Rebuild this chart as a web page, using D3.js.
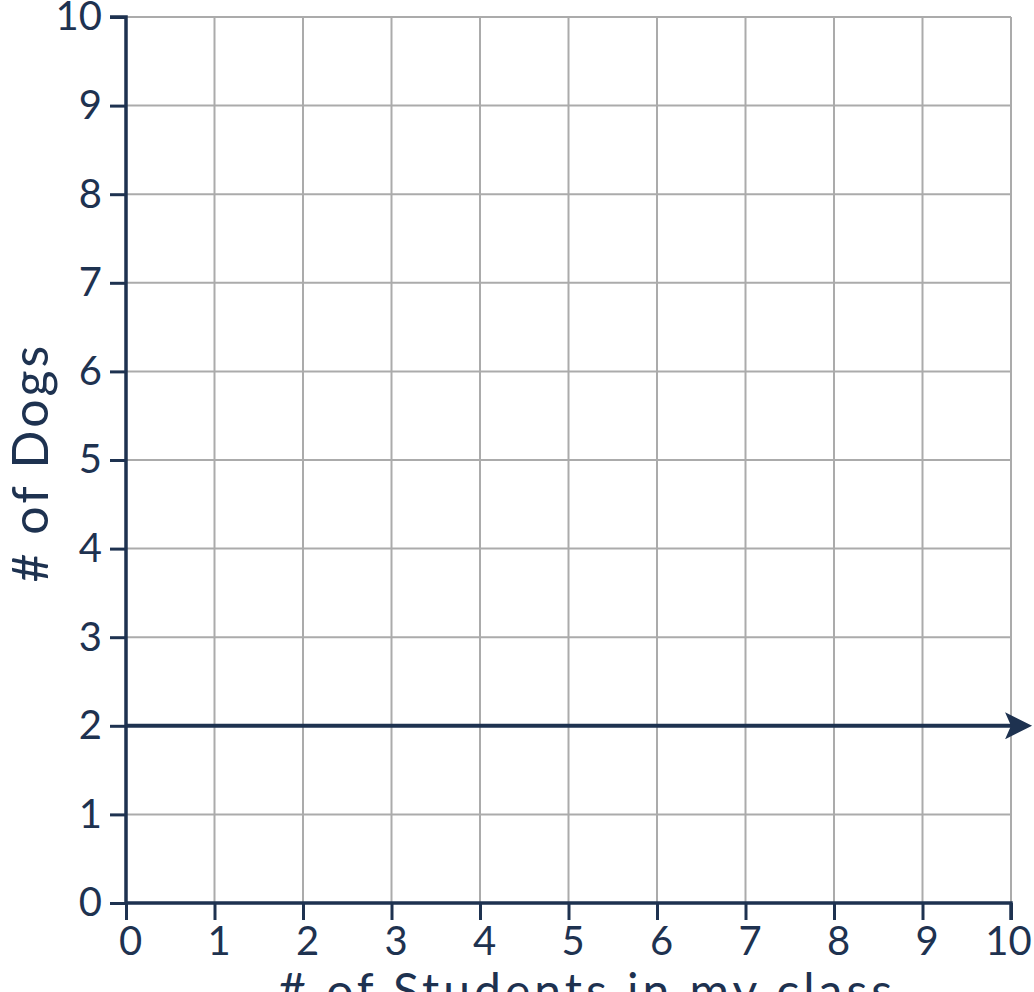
<!DOCTYPE html>
<html lang="en">

<head>
    <meta charset="UTF-8">
    <script src="https://d3js.org/d3.v7.min.js"></script>
    <title>dogs vs students</title>
    <style>
        body { margin: 0; background: #fff; }
        text { font-family: Lato, "Open Sans", sans-serif; fill: #1e3250; }
    </style>
</head>

<body>
    <div id="chart"></div>
    <script>
        // Data
        const xTicks = [0, 1, 2, 3, 4, 5, 6, 7, 8, 9, 10];
        const yTicks = [0, 1, 2, 3, 4, 5, 6, 7, 8, 9, 10];
        const lineX = [0, 10];
        const lineY = [2, 2];
        const xTitle = "# of Students in my class";
        const yTitle = "# of Dogs";

        const width = 1034;
        const height = 992;
        const margin = { top: 17, right: 23, bottom: 89, left: 126 };
        const ink = "#1e3250";

        const svg = d3.select("#chart")
            .append("svg")
            .attr("width", width)
            .attr("height", height);

        const x = d3.scaleLinear().domain([0, 10]).range([margin.left, width - margin.right]);
        const y = d3.scaleLinear().domain([0, 10]).range([height - margin.bottom, margin.top]);

        // Grid
        svg.append("g")
            .selectAll("line")
            .data(xTicks.slice(1))
            .join("line")
            .attr("x1", d => x(d)).attr("x2", d => x(d))
            .attr("y1", y(0)).attr("y2", y(10))
            .attr("stroke", "#ababab")
            .attr("stroke-width", 2);

        svg.append("g")
            .selectAll("line")
            .data(yTicks.slice(1))
            .join("line")
            .attr("x1", x(0)).attr("x2", x(10))
            .attr("y1", d => y(d)).attr("y2", d => y(d))
            .attr("stroke", "#ababab")
            .attr("stroke-width", 2);

        // Axes
        const xAxis = svg.append("g")
            .attr("transform", `translate(0,${y(0)})`)
            .call(d3.axisBottom(x).tickValues(xTicks).tickSize(17).tickPadding(7).tickFormat(d3.format("d")));

        const yAxis = svg.append("g")
            .attr("transform", `translate(${x(0)},0)`)
            .call(d3.axisLeft(y).tickValues(yTicks).tickSize(16).tickPadding(8).tickFormat(d3.format("d")));

        [xAxis, yAxis].forEach(a => {
            a.select(".domain").attr("stroke", ink).attr("stroke-width", 3.5);
            a.selectAll(".tick line").attr("stroke", ink).attr("stroke-width", 3);
            a.selectAll(".tick text")
                .attr("fill", ink)
                .style("font-size", "40px");
        });
        xAxis.selectAll(".tick text").attr("dx", d => d === 10 ? -3 : 4);
        xAxis.select(".domain").attr("d", `M${x(0)},0H${x(10)}V17`);
        yAxis.select(".domain").attr("d", `M-16,${y(10)}H0V${y(0)}`);

        // Arrow marker
        svg.append("defs").append("marker")
            .attr("id", "arrow")
            .attr("viewBox", "0 0 10 10")
            .attr("refX", 2.2)
            .attr("refY", 5)
            .attr("markerUnits", "userSpaceOnUse")
            .attr("markerWidth", 29)
            .attr("markerHeight", 27)
            .attr("orient", "auto")
            .append("path")
            .attr("d", "M0,0L10,5L0,10L2.2,5Z")
            .attr("fill", ink);

        // Line y = 2
        const lineData = lineX.map((d, i) => ({ x: d, y: lineY[i] }));
        svg.append("path")
            .datum(lineData)
            .attr("fill", "none")
            .attr("stroke", ink)
            .attr("stroke-width", 4)
            .attr("marker-end", "url(#arrow)")
            .attr("d", d3.line().x(d => x(d.x)).y(d => y(d.y)));

        // Titles
        svg.append("text")
            .attr("x", 587)
            .attr("y", 1008)
            .attr("text-anchor", "middle")
            .style("font-size", "48px")
            .style("letter-spacing", "4px")
            .text(xTitle);

        svg.append("text")
            .attr("transform", `translate(48,${y(4.97)}) rotate(-90)`)
            .attr("text-anchor", "middle")
            .style("font-size", "50px")
            .style("letter-spacing", "3px")
            .text(yTitle);
    </script>
</body>

</html>
